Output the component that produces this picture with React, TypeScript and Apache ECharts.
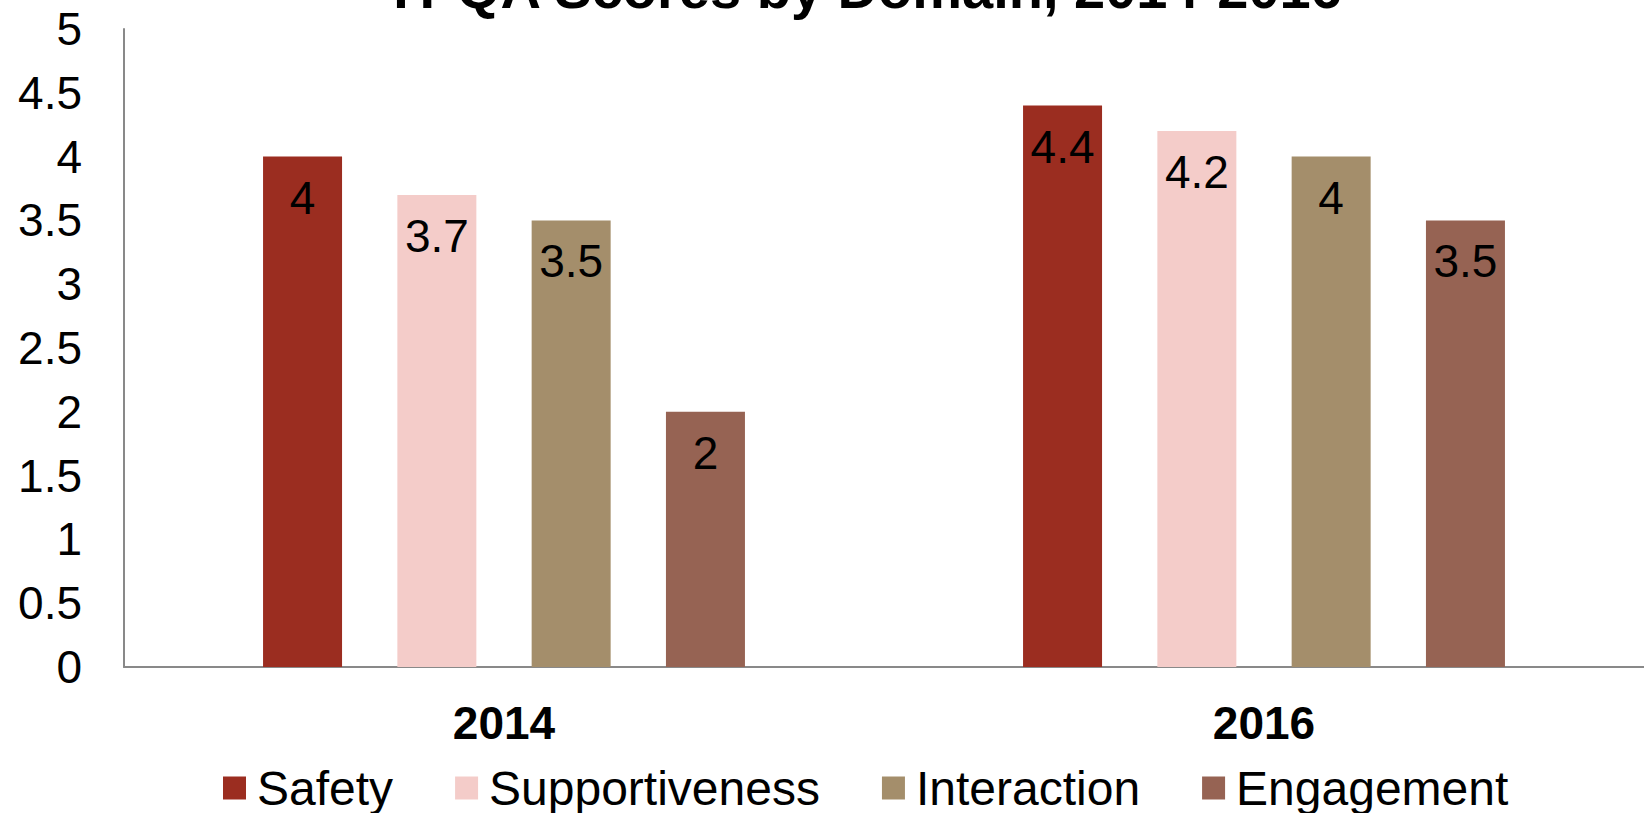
import React, { useEffect, useRef } from "react";
import * as echarts from "echarts";

const categories = ["2014", "2016"];
const seriesNames = ["Safety", "Supportiveness", "Interaction", "Engagement"];
const safety = [4, 4.4];
const supportiveness = [3.7, 4.2];
const interaction = [3.5, 4];
const engagement = [2, 3.5];
const colors = ["#9B2D20", "#F4CCC9", "#A48E6B", "#966353"];
const titleText = "YPQA Scores by Domain, 2014-2016";

const FONT = "'Liberation Sans', Arial, Helvetica, sans-serif";

export default function App() {
  const ref = useRef<HTMLDivElement>(null);
  useEffect(() => {
    if (!ref.current) return;
    const chart = echarts.init(ref.current, null, { renderer: "svg" });
    const dataSets = [safety, supportiveness, interaction, engagement];
    chart.setOption({
      animation: false,
      color: colors,
      textStyle: { fontFamily: FONT },
      graphic: [
        {
          type: "text",
          x: 862,
          y: -12,
          style: {
            text: titleText,
            font: `bold 56px ${FONT}`,
            fill: "#000",
            textAlign: "center",
            textVerticalAlign: "middle",
          },
        },
      ],
      legend: {
        data: seriesNames,
        left: 218,
        top: 759,
        width: 1420,
        itemWidth: 23,
        itemHeight: 23,
        itemGap: 62,
        icon: "rect",
        textStyle: {
          fontSize: 48,
          fontFamily: FONT,
          color: "#000",
          lineHeight: 48,
          padding: [0, 0, 0, 6],
        },
      },
      grid: { left: 124, right: 0, top: 29, bottom: 146, containLabel: false },
      xAxis: {
        type: "category",
        data: categories,
        axisLine: { lineStyle: { color: "#898989", width: 2 } },
        axisTick: { show: false },
        axisLabel: {
          fontSize: 46,
          fontWeight: "bold",
          fontFamily: FONT,
          color: "#000",
          margin: 33,
          lineHeight: 46,
        },
      },
      yAxis: {
        type: "value",
        min: 0,
        max: 5,
        interval: 0.5,
        axisLine: { show: true, lineStyle: { color: "#898989", width: 2 } },
        axisTick: { show: false },
        splitLine: { show: false },
        axisLabel: {
          fontSize: 46,
          fontFamily: FONT,
          color: "#000",
          margin: 42,
        },
      },
      series: seriesNames.map((name, i) => ({
        name,
        type: "bar",
        data: dataSets[i],
        barWidth: 79,
        barGap: "70%",
        itemStyle: { color: colors[i] },
        label: {
          show: true,
          position: "insideTop",
          distance: 18,
          fontSize: 46,
          fontFamily: FONT,
          color: "#000",
        },
      })),
    });
    return () => chart.dispose();
  }, []);
  return (
    <div
      ref={ref}
      style={{ position: "absolute", left: 0, top: 0, width: 1644, height: 813, background: "#fff" }}
    />
  );
}
